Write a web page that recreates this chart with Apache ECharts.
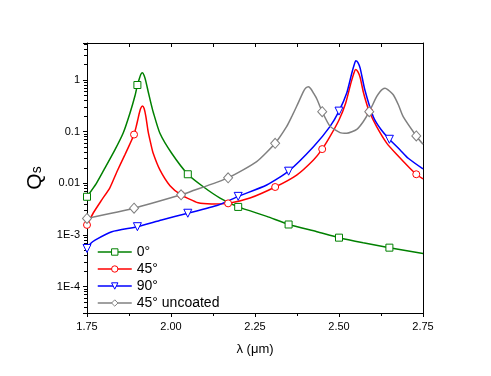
<!DOCTYPE html>
<html>
<head>
<meta charset="utf-8">
<script src="https://cdn.jsdelivr.net/npm/echarts@6/dist/echarts.min.js"></script>
<style>
  html, body { margin: 0; padding: 0; background: #fff; }
  #main { width: 491px; height: 376px; }
</style>
</head>
<body>
<div id="main"></div>
<script>
  // values, [lambda (um), Qs]
  var q0 = [
    [1.75, 0.0055], [1.778, 0.010], [1.80, 0.018], [1.833, 0.0443], [1.858, 0.095],
    [1.878, 0.23], [1.893, 0.5], [1.9, 0.8], [1.905, 1.02], [1.91, 1.28],
    [1.915, 1.38], [1.92, 1.22], [1.925, 0.95], [1.932, 0.6], [1.94, 0.36],
    [1.947, 0.24], [1.967, 0.093], [2.002, 0.0382], [2.05, 0.015], [2.096, 0.0086],
    [2.146, 0.0052], [2.2, 0.0035], [2.285, 0.0023], [2.35, 0.0016], [2.434, 0.00116],
    [2.5, 0.00089], [2.572, 0.00071], [2.65, 0.00057], [2.75, 0.00044]
  ];
  var q45 = [
    [1.75, 0.00157], [1.769, 0.0027], [1.794, 0.0048], [1.818, 0.0082], [1.839, 0.0168],
    [1.863, 0.036], [1.883, 0.069], [1.89, 0.088], [1.897, 0.13], [1.901, 0.168],
    [1.905, 0.22], [1.91, 0.285], [1.915, 0.314], [1.92, 0.28], [1.925, 0.2],
    [1.932, 0.10], [1.94, 0.058], [1.947, 0.0382], [1.967, 0.0182], [1.997, 0.0090],
    [2.03, 0.0060], [2.081, 0.0042], [2.121, 0.0040], [2.17, 0.0041], [2.235, 0.0052],
    [2.31, 0.0085], [2.374, 0.0145], [2.424, 0.0284], [2.45, 0.046], [2.473, 0.08],
    [2.5, 0.168], [2.52, 0.36], [2.535, 0.85], [2.545, 1.4], [2.55, 1.6],
    [2.556, 1.45], [2.563, 1.12], [2.572, 0.6], [2.582, 0.35], [2.59, 0.245],
    [2.612, 0.125], [2.642, 0.06], [2.672, 0.036], [2.711, 0.0196], [2.73, 0.015],
    [2.75, 0.0122]
  ];
  var q90 = [
    [1.75, 0.00055], [1.76, 0.00068], [1.774, 0.0008], [1.824, 0.00116], [1.9, 0.00145],
    [1.972, 0.00196], [2.05, 0.00264], [2.141, 0.00382], [2.2, 0.0056], [2.285, 0.0093],
    [2.35, 0.0172], [2.424, 0.051], [2.473, 0.125], [2.5, 0.25], [2.523, 0.56],
    [2.538, 1.35], [2.545, 1.95], [2.55, 2.36], [2.556, 2.2], [2.563, 1.7],
    [2.577, 0.64], [2.602, 0.195], [2.625, 0.11], [2.65, 0.0713], [2.682, 0.0443],
    [2.706, 0.0306], [2.75, 0.019]
  ];
  var q45u = [
    [1.75, 0.0021], [1.89, 0.0033], [2.03, 0.006], [2.057, 0.0069], [2.17, 0.0128],
    [2.255, 0.0263], [2.31, 0.0597], [2.344, 0.125], [2.36, 0.20], [2.374, 0.31],
    [2.394, 0.594], [2.401, 0.70], [2.409, 0.742], [2.416, 0.68], [2.424, 0.56],
    [2.434, 0.43], [2.45, 0.244], [2.473, 0.128], [2.503, 0.0957], [2.523, 0.093],
    [2.553, 0.111], [2.572, 0.156], [2.59, 0.244], [2.612, 0.475], [2.622, 0.594],
    [2.629, 0.66], [2.637, 0.69], [2.645, 0.65], [2.662, 0.513], [2.677, 0.328],
    [2.691, 0.195], [2.73, 0.0826], [2.75, 0.057]
  ];

  // x positions where the markers sit
  var mark0 = [1.75, 1.9, 2.05, 2.2, 2.35, 2.5, 2.65];
  var mark45 = [1.75, 1.89, 2.03, 2.17, 2.31, 2.45, 2.59, 2.73];

  var names = ['0°', '45°', '90°', '45° uncoated'];
  var colors = ['#008000', '#ff0000', '#0000ff', '#808080'];
  var yTickLabels = ['1E-4', '1E-3', '0.01', '0.1', '1'];   // 10^-4 .. 10^0

  var font = '"Liberation Sans", Arial, sans-serif';

  function pts(data, marks) {
    return data.map(function (d) {
      return marks.indexOf(d[0]) >= 0 ? {value: d} : {value: d, symbol: 'none'};
    });
  }

  function line(i, data, marks, symbol, size, rotate) {
    return {
      name: names[i],
      type: 'line',
      data: pts(data, marks),
      smooth: 0.2,
      symbol: symbol,
      symbolRotate: rotate || 0,
      symbolSize: size,
      showAllSymbol: true,
      lineStyle: {color: colors[i], width: 1.5},
      itemStyle: {color: '#fff', borderColor: colors[i], borderWidth: 1},
      emphasis: {disabled: true}
    };
  }

  var myChart = echarts.init(document.getElementById('main'));

  var option = {
    animation: false,
    color: colors,
    textStyle: {fontFamily: font},
    grid: {left: 87, right: 68, top: 43, bottom: 63},
    legend: {
      orient: 'vertical',
      left: 92,
      top: 240,
      itemWidth: 34,
      itemHeight: 8,
      itemGap: 3,
      data: names,
      itemStyle: {borderWidth: 1},
      lineStyle: {width: 1.5},
      textStyle: {fontSize: 14, color: '#000', fontFamily: font, lineHeight: 14}
    },
    xAxis: [
      {
        type: 'value',
        min: 1.75,
        max: 2.75,
        interval: 0.25,
        name: 'λ (μm)',
        nameLocation: 'middle',
        nameGap: 30,
        nameTextStyle: {fontSize: 13, color: '#000', fontFamily: font},
        axisLine: {lineStyle: {color: '#000', width: 1}},
        axisTick: {length: 4, lineStyle: {color: '#000'}},
        minorTick: {show: true, splitNumber: 2, length: 3, lineStyle: {color: '#000'}},
        splitLine: {show: false},
        axisLabel: {
          fontSize: 11, color: '#000', margin: 8, fontFamily: font,
          formatter: function (v) { return v.toFixed(2); }
        }
      },
      {
        type: 'value',
        position: 'top',
        min: 1.75,
        max: 2.75,
        interval: 0.125,
        axisLine: {lineStyle: {color: '#000', width: 1}},
        axisTick: {inside: true, length: 4, lineStyle: {color: '#000'}},
        axisLabel: {show: false},
        splitLine: {show: false}
      }
    ],
    yAxis: [
      {
        type: 'log',
        logBase: 10,
        min: 3.1e-5,
        max: 5.2,
        name: '{q|Q}{s|s}',
        nameLocation: 'middle',
        nameRotate: 90,
        nameGap: 34,
        nameTextStyle: {
          color: '#000',
          fontFamily: font,
          rich: {
            q: {fontSize: 21, fontFamily: font, color: '#000'},
            s: {fontSize: 14, fontFamily: font, color: '#000', padding: [0, 0, -4, 0]}
          }
        },
        axisLine: {show: true, lineStyle: {color: '#000', width: 1}},
        axisTick: {length: 4, lineStyle: {color: '#000'}},
        minorTick: {show: true, splitNumber: 9, length: 3, lineStyle: {color: '#000'}},
        splitLine: {show: false},
        axisLabel: {
          fontSize: 11, color: '#000', margin: 7, fontFamily: font,
          showMinLabel: false, showMaxLabel: false,
          formatter: function (v) {
            var e = Math.round(Math.log10(v));
            return yTickLabels[e + 4] || '';
          }
        }
      },
      {
        type: 'log',
        position: 'right',
        min: 3.1e-5,
        max: 5.2,
        axisLine: {show: true, lineStyle: {color: '#000', width: 1}},
        axisTick: {show: false},
        axisLabel: {show: false},
        splitLine: {show: false}
      }
    ],
    series: [
      line(0, q0, mark0, 'rect', 7),
      line(1, q45, mark45, 'circle', 7),
      line(2, q90, mark0, 'triangle', 8, 180),
      line(3, q45u, mark45, 'diamond', [9, 10])
    ]
  };

  myChart.setOption(option);
</script>
</body>
</html>
